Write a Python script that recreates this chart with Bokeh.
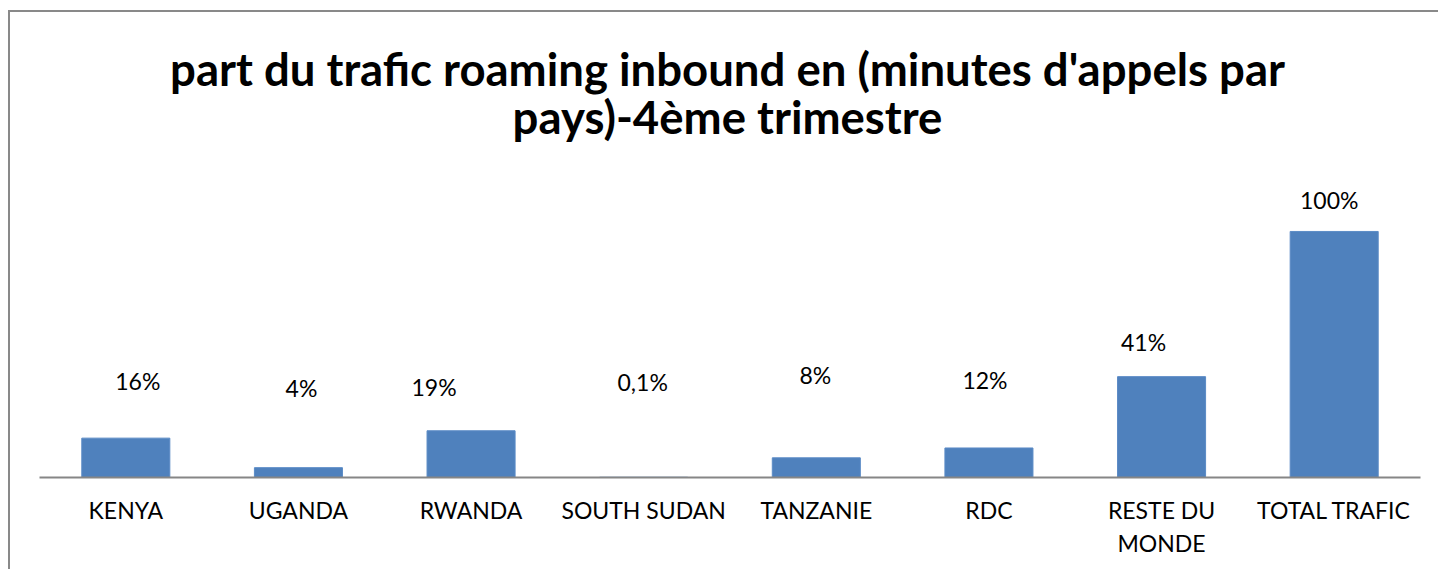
from bokeh.plotting import figure
from bokeh.models import ColumnDataSource, Label, Range1d, FactorRange
from bokeh.core.properties import value
from bokeh.embed import file_html
from bokeh.resources import INLINE

categories = ["KENYA", "UGANDA", "RWANDA", "SOUTH SUDAN", "TANZANIE", "RDC",
              "RESTE DU\nMONDE", "TOTAL TRAFIC"]
values = [16, 4, 19, 0.1, 8, 12, 41, 100]
labels = ["16%", "4%", "19%", "0,1%", "8%", "12%", "41%", "100%"]
title_lines = ["part du trafic roaming inbound en (minutes d'appels par",
               "pays)-4ème trimestre"]

# manual label placement (pixel offsets from bar top-centre), as in the original
label_dx = [12, 3, -37, -1, -1, -4, -18, -5]
label_dy = [-57, -80, -44, -95, -83, -68, -35, -31]

src = ColumnDataSource(dict(cat=categories, val=values, lab=labels,
                            dx=label_dx, dy=label_dy))

FONT = "Lato"

# the frame spans the whole height above the axis; the title sits in its top part
p = figure(x_range=FactorRange(*categories), y_range=Range1d(0, 189.0),
           width=1430, height=559, output_backend="svg", toolbar_location=None,
           min_border_left=29, min_border_right=20, min_border_bottom=94,
           min_border_top=0)
p.title = None

# title lines, positioned in screen pixels from the frame's bottom-left corner
for txt, sy in zip(title_lines, [409, 361]):
    p.add_layout(Label(x=688, y=sy, x_units="screen", y_units="screen", text=txt,
                       text_align="center", text_baseline="alphabetic",
                       text_font=FONT, text_font_size="45.5px",
                       text_font_style="bold", text_color="black"))

p.vbar(x="cat", top="val", width=0.51, fill_color="#4F81BD",
       line_color="#5B8BC6", line_width=1, source=src)

p.text(x="cat", y="val", text="lab", x_offset="dx", y_offset="dy",
       text_align="center", text_baseline="middle", text_font=value(FONT),
       text_font_size="23px", text_color="black", source=src)

p.yaxis.visible = False
p.xgrid.grid_line_color = None
p.ygrid.grid_line_color = None
p.outline_line_color = None

ax = p.xaxis[0]
ax.axis_line_color = "#868686"
ax.axis_line_width = 2
ax.major_tick_line_color = None
ax.minor_tick_line_color = None
ax.major_label_text_font = FONT
ax.major_label_text_font_size = "23px"
ax.major_label_text_color = "black"
ax.major_label_standoff = 12
ax.major_label_text_line_height = 1.2

p.styles = {"border-top": "2px solid #898989", "border-left": "2px solid #898989",
            "margin-left": "8px", "margin-top": "10px"}

open("out.html", "w").write(file_html(p, INLINE))
